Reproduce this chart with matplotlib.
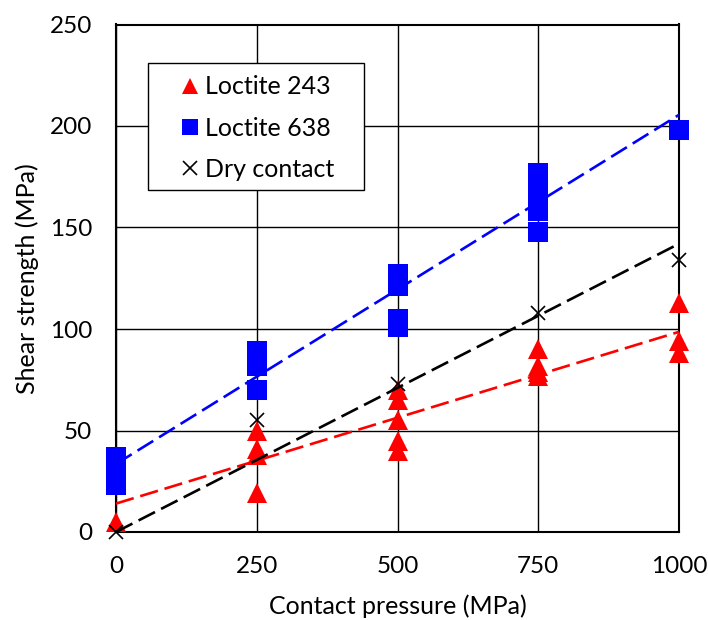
import numpy as np
import matplotlib
matplotlib.use('Agg')
import matplotlib.pyplot as plt
from matplotlib.patches import Rectangle

plt.rcParams['font.family'] = ['Lato', 'DejaVu Sans']

# ── Dados ─────────────────────────────────────────────────────────────────────
x_243 = [0, 250, 250, 250, 250, 500, 500, 500, 500, 500,
         750, 750, 750, 750, 1000, 1000, 1000]
y_243 = [5, 50, 41, 38, 19, 70, 65, 55, 45, 40,
         90, 82, 79, 77, 113, 94, 88]

x_638 = [0, 0, 0, 0, 0, 250, 250, 250, 250,
         500, 500, 500, 500, 500, 750, 750, 750, 750, 750, 1000]
y_638 = [37, 33, 30, 26, 23, 89, 85, 82, 70,
         127, 124, 121, 105, 101, 177, 175, 168, 158, 148, 198]

x_dry = [0, 250, 500, 750, 1000]
y_dry = [0, 55, 73, 108, 134]

# linhas de tendência (valores em x = 0 e x = 1000)
x_trend = [0, 1000]
trend_243 = [14, 98.6]
trend_638 = [33.5, 205.5]
trend_dry = [0, 142]

x_ticks = [0, 250, 500, 750, 1000]
y_ticks = [0, 50, 100, 150, 200, 250]

# ── Plot ──────────────────────────────────────────────────────────────────────
fig = plt.figure(figsize=(7.08, 6.2), dpi=100)
ax = fig.add_axes([116 / 708, 88 / 620, 563 / 708, 507.5 / 620])

ax.plot(x_243, y_243, '^', color='#ff0000', ms=15, mew=0, clip_on=False,
        zorder=3, label='Loctite 243')
ax.plot(x_638, y_638, 's', color='#0000ff', ms=15, mew=0, clip_on=False,
        zorder=3, label='Loctite 638')
ax.plot(x_dry, y_dry, 'x', color='black', ms=10, mew=1.2, clip_on=False,
        zorder=4, label='Dry contact')

dash = (7, 2.6)
ax.plot(x_trend, trend_243, color='#ff0000', lw=1.9, dashes=dash, zorder=5)
ax.plot(x_trend, trend_638, color='#0000ff', lw=1.9, dashes=dash, zorder=5)
ax.plot(x_trend, trend_dry, color='black', lw=1.9, dashes=dash, zorder=5)

ax.set_xlim(0, 1000)
ax.set_ylim(0, 250)
ax.set_xticks(x_ticks)
ax.set_yticks(y_ticks)
ax.tick_params(length=0, labelsize=17.5, pad=17)
ax.grid(True, color='black', lw=1.0)
ax.set_axisbelow(True)
for sp in ax.spines.values():
    sp.set_linewidth(1.5)

ax.set_xlabel('Contact pressure (MPa)', fontsize=18, labelpad=13)
ax.set_ylabel('Shear strength (MPa)', fontsize=18, labelpad=8)

# moldura da legenda (estilo Excel, margem maior à esquerda)
ax.add_patch(Rectangle((0.0568, 0.674), 0.3837, 0.251, transform=ax.transAxes,
                       facecolor='white', edgecolor='black', lw=1.0,
                       zorder=6))
leg = ax.legend(loc='upper left', bbox_to_anchor=(0.1048, 0.900),
                fontsize=18, frameon=False, handlelength=1.2,
                handletextpad=0.0, borderpad=0, labelspacing=0.73,
                borderaxespad=0)
leg.set_zorder(7)
for h in leg.legend_handles:
    h.set_markersize(12 if h.get_marker() != 'x' else 10)

fig.savefig('out.png', dpi=100)
